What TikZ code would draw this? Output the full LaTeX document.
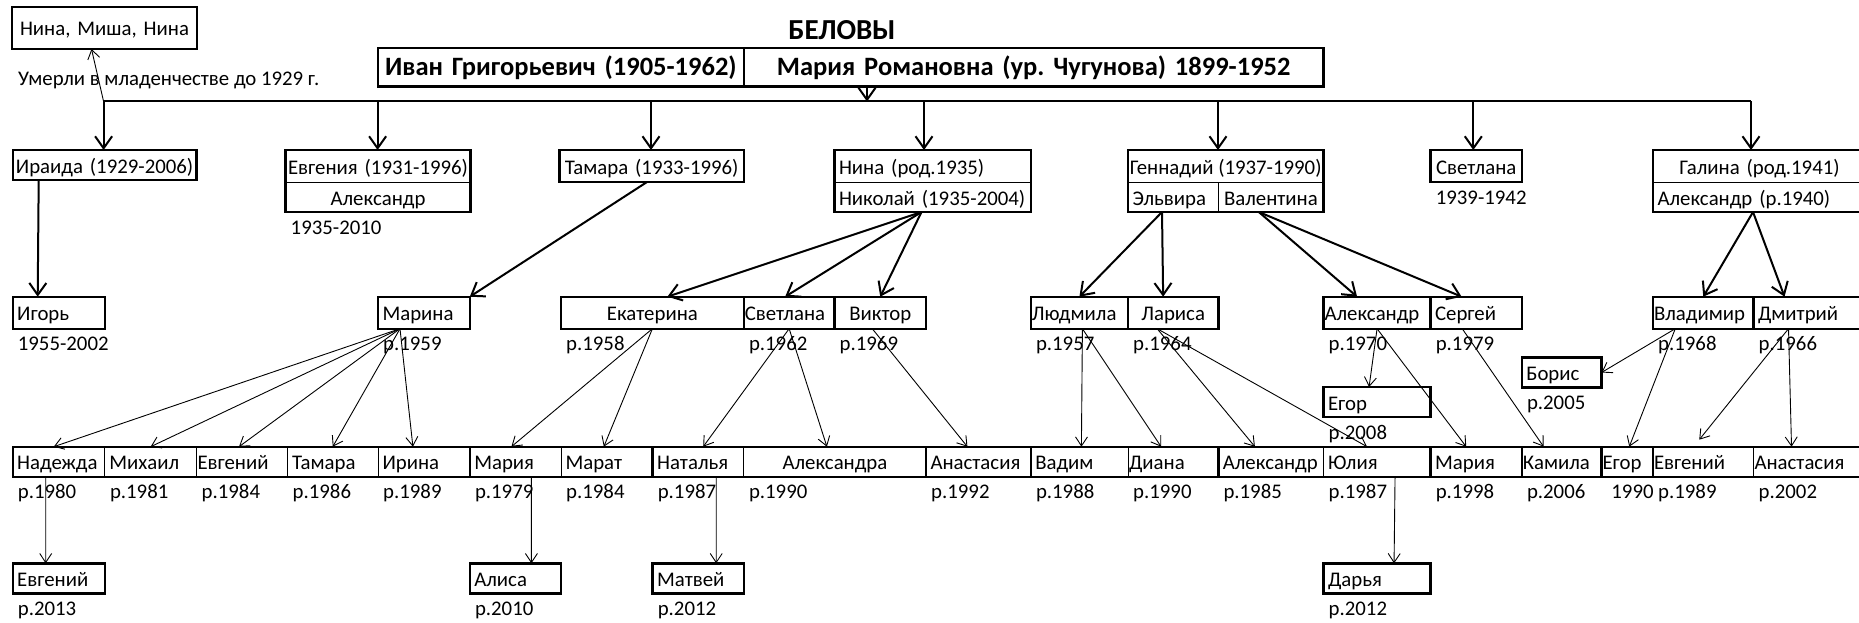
\documentclass[tikz,border=0pt]{standalone}
\usepackage{fontspec}
\setmainfont{Carlito}
\usepackage{tikz}
\usetikzlibrary{arrows.meta,positioning}

\newcommand\cellfont{\fontsize{20.8}{25}\selectfont}
\newcommand\headfont{\fontsize{26.5}{31}\selectfont\bfseries}
\newcommand\titlefont{\fontsize{29}{34}\selectfont\bfseries}
\frenchspacing

\begin{document}
\begin{tikzpicture}[
  x=1pt, y=-1pt,
  cell/.style={rectangle, draw, line width=1pt, outer sep=0pt, inner xsep=4.5pt, inner ysep=0pt, anchor=north west, minimum height=30pt, text height=18pt, text depth=2pt, align=left, font=\cellfont},
  box/.style={cell, line width=2.4pt},
  big/.style={minimum height=32pt},
  tight/.style={inner xsep=1pt},
  frame/.style={line width=2.4pt},
  yr/.style={anchor=base west, inner sep=0pt, font=\cellfont, xshift=5pt, yshift=-22pt},
  arrow/.style={-{Straight Barb[length=12pt,width=17pt]}, line width=2pt},
  kid/.style={-{Straight Barb[length=9pt,width=12pt]}, line width=0.9pt},
  bus/.style={line width=2pt}
]
  \useasboundingbox (0,0) rectangle (1859,623);
  \clip (0,0) rectangle (1859,623);

  \node[anchor=base, font=\titlefont] (fam) at (842,40) {БЕЛОВЫ};
  \node[box, tight, minimum height=38.5pt, text width=363.8pt, align=center, font=\headfont] (dad) at (378,48) {Иван Григорьевич (1905-1962)};
  \node[box, right=0pt of dad, minimum height=38.5pt, text width=570.7pt, align=center, font=\headfont] (mom) {Мария Романовна (ур. Чугунова) 1899-1952};
  \node[box, minimum height=42pt, text width=176pt, align=center] (died) at (12,7) {Нина, Миша, Нина};
  \node[anchor=base west, inner sep=0pt, font=\cellfont] (diednote) at (18,86) {Умерли в младенчестве до 1929 г.};

  \node[box, tight, text width=181.8pt, align=center] (iraida) at (12.7,150) {Ираида (1929-2006)};
  \node[cell, big, tight, text width=183pt, align=center] (evg1) at (285.5,150) {Евгения (1931-1996)};
  \node[cell, below=0pt of evg1, tight, text width=183pt, align=center] (evg1h) {Александр};
  \node[box, big, tight, text width=182.3pt, align=center] (tam1) at (559.5,150) {Тамара (1933-1996)};
  \node[cell, big, text width=187.3pt] (nina1) at (834.5,150) {Нина (род.1935)};
  \node[cell, below=0pt of nina1, text width=187.3pt] (nik1) {Николай (1935-2004)};
  \node[cell, big, inner xsep=0pt, minimum width=195.5pt] (gen1) at (1128,150) {Геннадий (1937-1990)};
  \node[cell, text width=81.3pt] (elv1) at (gen1.south west) {Эльвира};
  \node[cell, right=0pt of elv1, tight, text width=103.2pt, align=center] (val1) {Валентина};
  \node[box, big, tight, text width=89.2pt, align=center] (svet1) at (1430.6,150) {Светлана};
  \node[cell, big, text width=204pt, align=center] (gal1) at (1653,150) {Галина (род.1941)};
  \node[cell, below=0pt of gal1, text width=204pt] (al1) {Александр (р.1940)};
  \draw[frame] (evg1.north west) rectangle (evg1h.south east);
  \draw[frame] (nina1.north west) rectangle (nik1.south east);
  \draw[frame] (gen1.north west) rectangle (val1.south east);
  \draw[frame] (gal1.north west) rectangle (al1.south east);
  \node[yr] (d-evg1h) at (evg1h.south west) {1935-2010};
  \node[yr] (d-svet1) at (svet1.south west) {1939-1942};

  \node[box, big, text width=83.1pt] (igor) at (12.7,296.7) {Игорь};
  \node[box, big, text width=82.8pt] (marina) at (378,296.7) {Марина};
  \node[box, big, text width=173.8pt, align=center] (ekat) at (561,296.7) {Екатерина};
  \node[box, big, right=0pt of ekat, tight, text width=88.7pt] (sveta2) {Светлана};
  \node[box, big, right=0pt of sveta2, text width=82.5pt, align=center] (viktor) {Виктор};
  \node[box, big, tight, text width=95.2pt] (lyud) at (1030.8,296.7) {Людмила};
  \node[box, big, right=0pt of lyud, text width=81.3pt, align=center] (larisa) {Лариса};
  \node[box, big, tight, text width=105.1pt] (alex2) at (1323.5,296.7) {Александр};
  \node[box, big, right=0pt of alex2, text width=82.2pt] (sergey) {Сергей};
  \node[box, big, tight, text width=98.5pt] (vlad) at (1653,296.7) {Владимир};
  \node[box, big, right=0pt of vlad, text width=103.5pt] (dmitry) {Дмитрий};
  \node[box, text width=70.7pt] (boris) at (1521.8,357.5) {Борис};
  \node[box, text width=98.1pt] (egor2) at (1323.5,387) {Егор};
  \node[yr] (d-igor) at (igor.south west) {1955-2002};
  \node[yr] (d-marina) at (marina.south west) {р.1959};
  \node[yr] (d-ekat) at (ekat.south west) {р.1958};
  \node[yr] (d-sveta2) at (sveta2.south west) {р.1962};
  \node[yr] (d-viktor) at (viktor.south west) {р.1969};
  \node[yr] (d-lyud) at (lyud.south west) {р.1957};
  \node[yr] (d-larisa) at (larisa.south west) {р.1964};
  \node[yr] (d-alex2) at (alex2.south west) {р.1970};
  \node[yr] (d-sergey) at (sergey.south west) {р.1979};
  \node[yr] (d-vlad) at (vlad.south west) {р.1968};
  \node[yr] (d-dmitry) at (dmitry.south west) {р.1966};
  \node[yr] (d-boris) at (boris.south west) {р.2005};
  \node[yr] (d-egor2) at (egor2.south west) {р.2008};

  \node[cell, text width=83.1pt] (nad) at (12.7,446.7) {Надежда};
  \node[cell, right=0pt of nad, text width=82.7pt] (mih) {Михаил};
  \node[cell, right=0pt of mih, tight, text width=89pt] (evg3a) {Евгений};
  \node[cell, right=0pt of evg3a, text width=81.5pt] (tam3) {Тамара};
  \node[cell, right=0pt of tam3, text width=82.8pt] (irina) {Ирина};
  \node[cell, right=0pt of irina, text width=82.2pt] (mar3a) {Мария};
  \node[cell, right=0pt of mar3a, text width=82.6pt] (marat) {Марат};
  \node[cell, right=0pt of marat, text width=82.2pt] (natal) {Наталья};
  \node[cell, right=0pt of natal, text width=173.2pt, align=center] (alexa) {Александра};
  \node[box, right=0pt of alexa, text width=95.8pt] (anast3a) {Анастасия};
  \node[cell, right=0pt of anast3a, text width=88.2pt] (vadim) {Вадим};
  \node[cell, right=0pt of vadim, tight, text width=88.3pt] (diana) {Диана};
  \node[cell, right=0pt of diana, text width=96.2pt] (alex3) {Александр};
  \node[cell, right=0pt of alex3, text width=98.1pt] (yulia) {Юлия};
  \node[box, right=0pt of yulia, text width=82.2pt] (mar3b) {Мария};
  \node[box, right=0pt of mar3b, tight, text width=77.7pt] (kamila) {Камила};
  \node[box, right=0pt of kamila, tight, text width=49.5pt] (egor3) {Егор};
  \node[cell, right=0pt of egor3, tight, text width=98.5pt] (evg3b) {Евгений};
  \node[cell, right=0pt of evg3b, tight, text width=110.5pt] (anast3b) {Анастасия};
  \draw[frame] (nad.north west) rectangle (irina.south east);
  \draw[frame] (mar3a.north west) rectangle (marat.south east);
  \draw[frame] (natal.north west) rectangle (alexa.south east);
  \draw[frame] (vadim.north west) rectangle (diana.south east);
  \draw[frame] (alex3.north west) rectangle (yulia.south east);
  \draw[frame] (evg3b.north west) rectangle (anast3b.south east);
  \node[yr] (d-nad) at (nad.south west) {р.1980};
  \node[yr] (d-mih) at (mih.south west) {р.1981};
  \node[yr] (d-evg3a) at (evg3a.south west) {р.1984};
  \node[yr] (d-tam3) at (tam3.south west) {р.1986};
  \node[yr] (d-irina) at (irina.south west) {р.1989};
  \node[yr] (d-mar3a) at (mar3a.south west) {р.1979};
  \node[yr] (d-marat) at (marat.south west) {р.1984};
  \node[yr] (d-natal) at (natal.south west) {р.1987};
  \node[yr] (d-alexa) at (alexa.south west) {р.1990};
  \node[yr] (d-anast3a) at (anast3a.south west) {р.1992};
  \node[yr] (d-vadim) at (vadim.south west) {р.1988};
  \node[yr] (d-diana) at (diana.south west) {р.1990};
  \node[yr] (d-alex3) at (alex3.south west) {р.1985};
  \node[yr] (d-yulia) at (yulia.south west) {р.1987};
  \node[yr] (d-mar3b) at (mar3b.south west) {р.1998};
  \node[yr] (d-kamila) at (kamila.south west) {р.2006};
  \node[yr, xshift=4.7pt] (d-egor3) at (egor3.south west) {1990};
  \node[yr] (d-evg3b) at (evg3b.south west) {р.1989};
  \node[yr] (d-anast3b) at (anast3b.south west) {р.2002};

  \node[box, text width=83.1pt] (ev4) at (12.7,563.3) {Евгений};
  \node[box, text width=82.2pt] (alisa) at (469.8,563.3) {Алиса};
  \node[box, text width=82.2pt] (matvey) at (652.6,563.3) {Матвей};
  \node[box, text width=98.1pt] (darya) at (1323.5,563.3) {Дарья};
  \node[yr] (d-ev4) at (ev4.south west) {р.2013};
  \node[yr] (d-alisa) at (alisa.south west) {р.2010};
  \node[yr] (d-matvey) at (matvey.south west) {р.2012};
  \node[yr] (d-darya) at (darya.south west) {р.2012};

  \coordinate (j0) at (867,101.5);
  \coordinate (j1) at (103.6,101.5);
  \coordinate (j2) at (377.6,101.5);
  \coordinate (j3) at (651,101.5);
  \coordinate (j4) at (924,101.5);
  \coordinate (j5) at (1218,101.5);
  \coordinate (j6) at (1473.3,101.5);
  \coordinate (j7) at (1751,101.5);
  \draw[bus] (j1) -- (j7);
  \draw[arrow] (j0 |- mom.south) -- (j0);
  \draw[kid] (j1) -- ([xshift=-13pt]died.south);
  \draw[arrow] (j1) -- (j1 |- iraida.north);
  \draw[arrow] (j2) -- (j2 |- evg1.north);
  \draw[arrow] (j3) -- (j3 |- tam1.north);
  \draw[arrow] (j4) -- (j4 |- nina1.north);
  \draw[arrow] (j5) -- (j5 |- gen1.north);
  \draw[arrow] (j6) -- (j6 |- svet1.north);
  \draw[arrow] (j7) -- (j7 |- gal1.north);

  \coordinate (nikfoot) at ([xshift=87pt]nik1.south west);
  \coordinate (elvfoot) at ([xshift=34pt]elv1.south west);
  \coordinate (valfoot) at ([xshift=40.5pt]val1.south west);
  \coordinate (alfoot) at ([xshift=100pt]al1.south west);
  \draw[arrow] ([xshift=26pt]iraida.south west) -- ([xshift=25pt]igor.north west);
  \draw[arrow] ([xshift=87.5pt]tam1.south west) -- (marina.north east);
  \draw[arrow] (nikfoot) -- ([xshift=15pt]ekat.north);
  \draw[arrow] (nikfoot) -- ([xshift=-4pt]sveta2.north);
  \draw[arrow] (nikfoot) -- (viktor.north);
  \draw[arrow] (elvfoot) -- (lyud.north);
  \draw[arrow] (elvfoot) -- ([xshift=-10pt]larisa.north);
  \draw[arrow] (valfoot) -- ([xshift=-20pt]alex2.north);
  \draw[arrow] (valfoot) -- ([xshift=31pt]sergey.north west);
  \draw[arrow] (alfoot) -- (vlad.north);
  \draw[arrow] (alfoot) -- ([xshift=31pt]dmitry.north west);

  \coordinate (marfoot) at ([xshift=22pt]marina.south west);
  \draw[kid] (marfoot) -- ([xshift=-5pt]nad.north);
  \draw[kid] (marfoot) -- (mih.north);
  \draw[kid] (marfoot) -- ([xshift=-3pt]evg3a.north);
  \draw[kid] (marfoot) -- (tam3.north);
  \draw[kid] (marfoot) -- ([xshift=-11pt]irina.north);
  \draw[kid] (ekat.south) -- ([xshift=-4pt]mar3a.north);
  \draw[kid] (ekat.south) -- ([xshift=-3pt]marat.north);
  \draw[kid] (sveta2.south) -- ([xshift=5pt]natal.north);
  \draw[kid] (sveta2.south) -- ([xshift=-8pt]alexa.north);
  \draw[kid] ([xshift=-8pt]viktor.south) -- ([xshift=-11pt]anast3a.north);
  \draw[kid] ([xshift=3pt]lyud.south) -- ([xshift=2pt]vadim.north);
  \draw[kid] ([xshift=3pt]lyud.south) -- ([xshift=-12pt]diana.north);
  \draw[kid] ([xshift=-16pt]larisa.south) -- ([xshift=-16pt]alex3.north);
  \draw[kid] ([xshift=-16pt]larisa.south) -- ([xshift=-10pt]yulia.north);
  \draw[kid] (alex2.south) -- ([xshift=-8pt]egor2.north);
  \draw[kid] (alex2.south) -- ([xshift=-10pt]mar3b.north);
  \draw[kid] ([xshift=-14pt]sergey.south) -- ([xshift=-18pt]kamila.north);
  \draw[kid] ([xshift=-28pt]vlad.south) -- (boris.east);
  \draw[kid] ([xshift=-28pt]vlad.south) -- ([xshift=2pt]egor3.north);
  \draw[kid] ([xshift=35pt]dmitry.south west) -- ([xshift=-4pt,yshift=7pt]evg3b.north);
  \draw[kid] ([xshift=35pt]dmitry.south west) -- ([xshift=38pt]anast3b.north west);

  \draw[kid] ([xshift=-13pt]nad.south) -- ([xshift=33pt]ev4.north west);
  \draw[kid] ([xshift=16pt]mar3a.south) -- ([xshift=16pt]alisa.north);
  \draw[kid] ([xshift=18pt]natal.south) -- ([xshift=18pt]matvey.north);
  \draw[kid] ([xshift=18pt]yulia.south) -- ([xshift=17pt]darya.north);
\end{tikzpicture}
\end{document}
